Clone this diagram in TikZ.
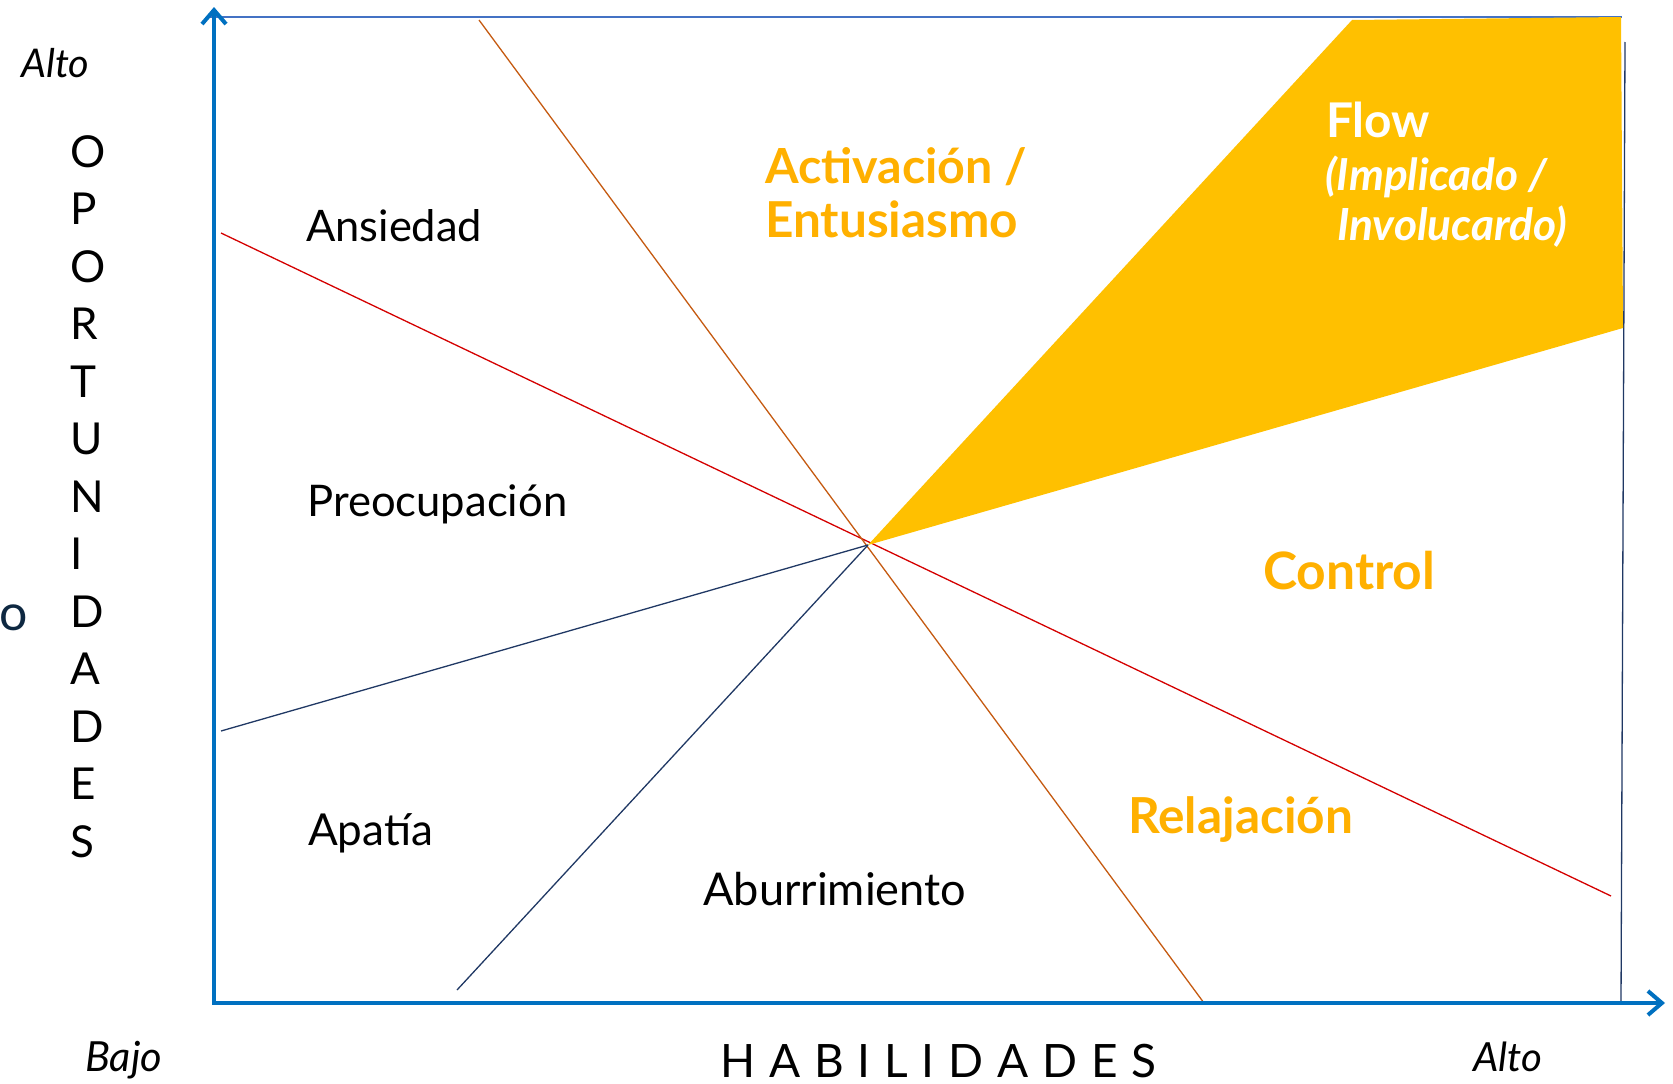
\documentclass[tikz,border=0pt]{standalone}
\usepackage{fontspec}
\setmainfont{Lato}
\usetikzlibrary{arrows.meta}
\definecolor{axisblue}{HTML}{0070C0}
\definecolor{frameblue}{HTML}{4472C4}
\definecolor{navyline}{HTML}{203864}
\definecolor{redline}{HTML}{D40000}
\definecolor{orangeline}{HTML}{C55A11}
\definecolor{flowgold}{HTML}{FFC000}
\definecolor{labelorange}{HTML}{FFB000}
\definecolor{bulletnavy}{HTML}{0E2841}
\newcommand{\fitw}[2]{\resizebox{#1pt}{!}{#2}}
\tikzset{
  lbl/.style={inner sep=0pt, anchor=base west, font=\fontsize{42}{50}\selectfont},
  plainlbl/.style={lbl, text=black},
  boldlbl/.style={lbl, text=labelorange, font=\fontsize{42}{50}\selectfont\bfseries},
  flowlbl/.style={lbl, text=white, font=\fontsize{42}{50}\selectfont\bfseries},
  axislbl/.style={lbl, text=black, font=\fontsize{42}{50}\selectfont\itshape},
  vletter/.style={inner sep=0pt, anchor=base west, font=\fontsize{44}{50}\selectfont},
  axisline/.style={line width=4pt, draw=axisblue, -{Straight Barb[length=14pt,width=24pt]}},
  thinline/.style={line width=1.3pt},
}
\begin{document}
\begin{tikzpicture}[x=1pt,y=-1pt]
\useasboundingbox (0,0) rectangle (1673,1084);
% key points
\coordinate (C) at (868,545);
\coordinate (O) at (214,1003);
\coordinate (Ytip) at (214,7);
\coordinate (Xtip) at (1665,1003);
\coordinate (TL) at (207,17);
\coordinate (TR) at (1622,17);
\coordinate (RT) at (1625,42);
\coordinate (RB) at (1621,1003);
\coordinate (RedA) at (221,233);
\coordinate (RedB) at (1611,896);
\coordinate (OrA) at (479,20);
\coordinate (OrB) at (1204,1003);
\coordinate (NavA) at (221,731);
\coordinate (NavB) at (457,990);
\coordinate (F1) at (1352,20);
\coordinate (F2) at (1621,17);
\coordinate (F3) at (1623,328);
% frame lines
\draw[thinline, draw=frameblue] (TL) -- (TR);
\draw[thinline, draw=navyline] (RT) -- (RB);
% diagonal lines
\draw[thinline, draw=redline] (RedA) -- (RedB);
\draw[thinline, draw=orangeline] (OrA) -- (OrB);
\draw[thinline, draw=navyline] (NavA) -- (C);
\draw[thinline, draw=navyline] (NavB) -- (C);
% flow region
\fill[flowgold] (C) -- (F1) -- (F2) -- (F3) -- cycle;
% axes
\draw[axisline] (O) -- (Ytip);
\draw[axisline] ([xshift=-2pt]O) -- (Xtip);
% vertical axis title
\foreach \L [count=\i from 0] in {O,P,O,R,T,U,N,I,D,A,D,E,S}
  \node[vletter] (v\i) at (70,{167+57.5*\i}) {\L};
\node[inner sep=0pt, anchor=base west, text=bulletnavy, font=\fontsize{50}{50}\selectfont] (bullet) at (-1,630) {o};
\node[axislbl] (altoY) at (21,77) {\fitw{68}{Alto}};
\node[axislbl] (bajo) at (85,1071) {\fitw{77}{Bajo}};
\node[axislbl] (altoX) at (1473,1071) {\fitw{69}{Alto}};
\node[plainlbl] (habil) at (720,1077) {\fitw{436}{H\hspace{0.3em}A\hspace{0.3em}B\hspace{0.3em}I\hspace{0.3em}L\hspace{0.3em}I\hspace{0.3em}D\hspace{0.3em}A\hspace{0.3em}D\hspace{0.3em}E\hspace{0.3em}S}};
% region labels
\node[plainlbl] (ans) at (306,241) {\fitw{176}{Ansiedad}};
\node[plainlbl] (pre) at (307,516) {\fitw{260}{Preocupación}};
\node[plainlbl] (apa) at (308,845) {\fitw{125}{Apatía}};
\node[plainlbl] (abu) at (703,905) {\fitw{263}{Aburrimiento}};
\node[boldlbl] (act) at (765,183) {\fitw{262}{Activación /}};
\node[boldlbl] (ent) at (765,237) {\fitw{253}{Entusiasmo}};
\node[boldlbl] (con) at (1263,589) {\fitw{172}{Control}};
\node[boldlbl] (rel) at (1128,833) {\fitw{225}{Relajación}};
\node[flowlbl] (flow) at (1326,137) {\fitw{104}{Flow}};
\node[flowlbl, font=\fontsize{42}{50}\selectfont\bfseries\itshape] (impl) at (1325,190) {\fitw{222}{(Implicado /}};
\node[flowlbl, font=\fontsize{42}{50}\selectfont\bfseries\itshape] (invo) at (1337,240) {\fitw{230}{Involucardo)}};
\end{tikzpicture}
\end{document}
